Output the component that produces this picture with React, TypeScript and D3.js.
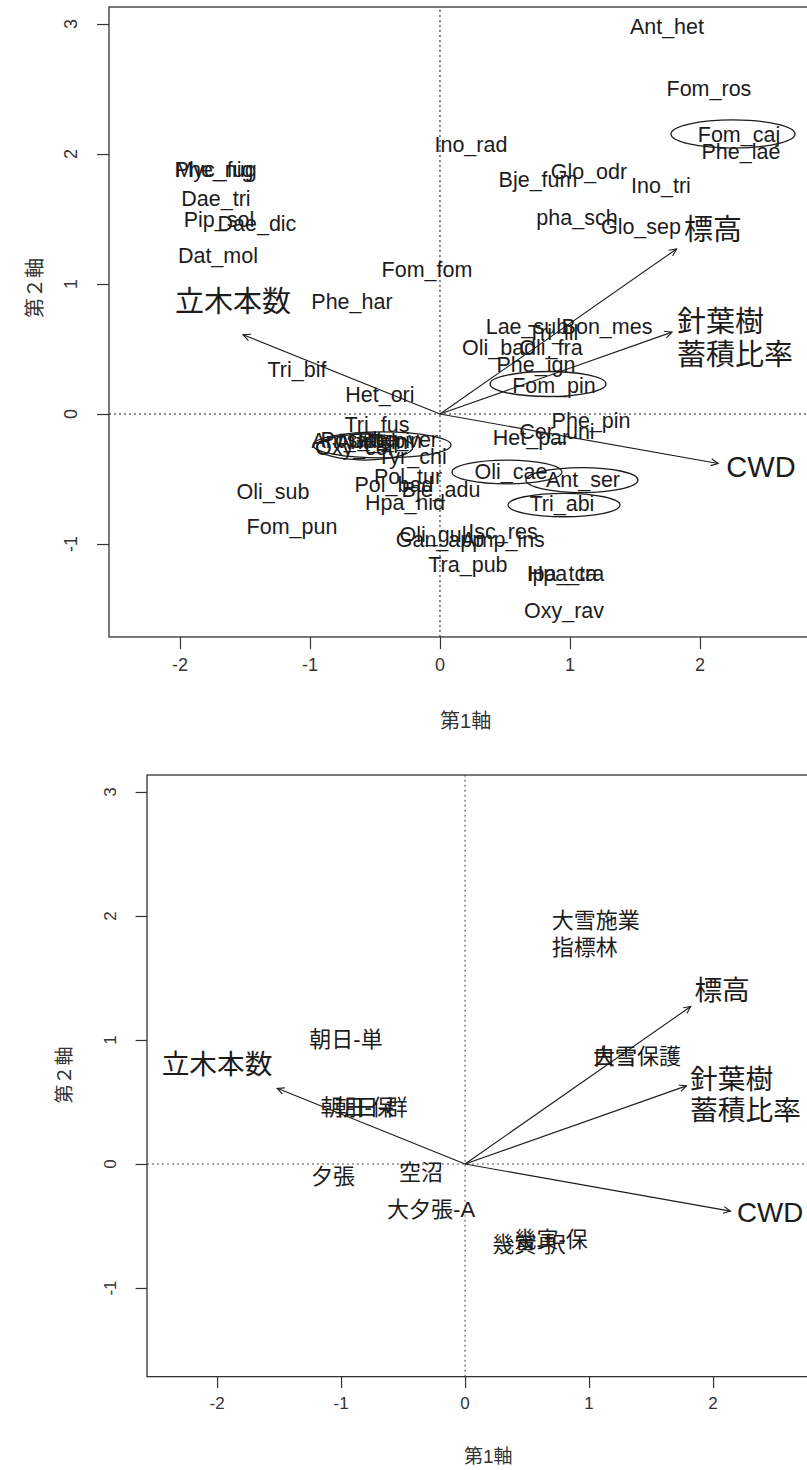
import React, { useEffect, useRef } from "react";
import * as d3 from "d3";

// species scores, top panel
const spNames = [
  "Myc_fug", "Phe_nig", "Dae_tri", "Pip_sol", "Dae_dic", "Dat_mol", "Phe_har", "Fom_fom",
  "Ino_rad", "Ant_het", "Fom_ros", "Fom_caj", "Phe_lae", "Bje_fum", "Glo_odr", "Ino_tri",
  "pha_sch", "Glo_sep", "Lae_sub", "Bon_mes", "Tri_ill", "Oli_bad", "Oli_fra", "Phe_ign",
  "Fom_pin", "Phe_pin", "Cer_uni", "Het_par", "Oli_cae", "Ant_ser", "Tri_abi", "Hpa_tra",
  "Ipa_tca", "Oxy_rav", "Tra_pub", "Oli_gul", "Gan_app", "Isc_res", "Amp_ins", "Tri_bif",
  "Het_ori", "Tri_fus", "Oxy_cor", "Tyr_chi", "Ant_alb", "Pos_ten", "Ant_sin", "Gel_pin",
  "Phe_ver", "Pol_tur", "Pol_bad", "Bje_adu", "Hpa_nid", "Oli_sub", "Fom_pun",
];
const spX = [
  -1.723, -1.738, -1.723, -1.70, -1.408, -1.708, -0.677, -0.10,
  0.238, 1.746, 2.069, 2.30, 2.315, 0.754, 1.146, 1.70,
  1.054, 1.546, 0.669, 1.285, 0.869, 0.454, 0.854, 0.738,
  0.877, 1.162, 0.90, 0.70, 0.546, 1.10, 0.938, 0.969,
  0.938, 0.954, 0.215, -0.054, 0.0, 0.485, 0.485, -1.10,
  -0.462, -0.485, -0.654, -0.215, -0.708, -0.615, -0.523, -0.423,
  -0.323, -0.246, -0.354, 0.008, -0.269, -1.285, -1.138,
];
const spY = [
  1.877, 1.877, 1.654, 1.492, 1.462, 1.215, 0.862, 1.108,
  2.069, 2.977, 2.50, 2.146, 2.015, 1.80, 1.862, 1.754,
  1.508, 1.438, 0.669, 0.669, 0.623, 0.508, 0.508, 0.377,
  0.215, -0.054, -0.138, -0.185, -0.446, -0.508, -0.692, -1.231,
  -1.231, -1.515, -1.162, -0.931, -0.969, -0.908, -0.969, 0.338,
  0.146, -0.085, -0.262, -0.331, -0.208, -0.20, -0.215, -0.208,
  -0.20, -0.485, -0.546, -0.585, -0.685, -0.60, -0.869,
];

// circled species (ellipse centre and radii in axis units)
const ringX = [2.254, 0.831, 0.515, 1.092, 0.954, -0.446, -0.577];
const ringY = [2.154, 0.231, -0.446, -0.508, -0.70, -0.238, -0.254];
const ringRx = [0.477, 0.446, 0.423, 0.431, 0.431, 0.531, 0.37];
const ringRy = [0.108, 0.096, 0.092, 0.096, 0.09, 0.10, 0.10];

// environmental vectors
const envNames = ["立木本数", "標高", "針葉樹\n蓄積比率", "CWD"];
const envX = [-1.515, 1.82, 1.785, 2.14];
const envY = [0.61, 1.27, 0.63, -0.38];
const envLabX1 = [-1.592, 2.10, 1.823, 2.469];
const envLabY1 = [0.862, 1.415, 0.58, -0.408];
const envLabX2 = [-2.0, 2.073, 1.815, 2.46];
const envLabY2 = [0.80, 1.403, 0.556, -0.395];

// site scores, bottom panel
const siteNames = [
  "朝日-単", "朝日-保", "朝日-群", "夕張", "空沼", "大夕張-A", "幾寅-保", "幾寅-択",
  "大雪施業\n指標林", "大雪保護", "白雪",
];
const siteX = [-0.96, -0.871, -0.758, -1.065, -0.355, -0.274, 0.694, 0.516, 0.70, 1.387, 1.21];
const siteY = [1.0, 0.452, 0.452, -0.097, -0.065, -0.371, -0.605, -0.653, 1.855, 0.863, 0.863];

const xTicks = [-2, -1, 0, 1, 2];
const yTicks = [-1, 0, 1, 2, 3];

const LATIN = "'Liberation Sans', Arial, 'Noto Sans CJK JP', sans-serif";
const INK = "#1c1c1c";

function putLabel(g, px, py, name, size, lineH) {
  const parts = name.split("\n");
  if (parts.length === 1) {
    g.append("text").attr("x", px).attr("y", py)
      .attr("text-anchor", "middle").attr("dominant-baseline", "central")
      .style("font-size", size + "px").text(name);
  } else {
    const t = g.append("text").attr("text-anchor", "start").style("font-size", size + "px");
    parts.forEach((s, i) => {
      t.append("tspan").attr("x", px)
        .attr("y", py + (i - (parts.length - 1) / 2) * lineH)
        .attr("dominant-baseline", "central").text(s);
    });
  }
}

function drawPanel(root, p) {
  const k = p.unit / 130;
  const x = d3.scaleLinear().domain([p.xmin, p.xmax])
    .range([p.left, p.left + (p.xmax - p.xmin) * p.unit]);
  const y = d3.scaleLinear().domain([p.ymin, p.ymax])
    .range([p.top + (p.ymax - p.ymin) * p.unit, p.top]);

  const g = root.append("g").style("font-family", LATIN).attr("fill", INK);

  // reference lines through origin
  g.append("line").attr("x1", x(0)).attr("x2", x(0)).attr("y1", y(p.ymin)).attr("y2", y(p.ymax))
    .attr("stroke", p.refColor).attr("stroke-width", 1.1).attr("stroke-dasharray", "2,3");
  g.append("line").attr("x1", x(p.xmin)).attr("x2", x(p.xmax)).attr("y1", y(0)).attr("y2", y(0))
    .attr("stroke", p.refColor).attr("stroke-width", 1.1).attr("stroke-dasharray", "2,3");

  // point labels
  const lab = g.append("g");
  p.names.forEach((n, i) => putLabel(lab, x(p.xs[i]), y(p.ys[i]), n, p.labSize, 28 * k));

  // ellipses
  if (p.rings) {
    g.append("g").selectAll("ellipse").data(p.rings.x).join("ellipse")
      .attr("cx", (d) => x(d)).attr("cy", (d, i) => y(p.rings.y[i]))
      .attr("rx", (d, i) => p.rings.rx[i] * p.unit).attr("ry", (d, i) => p.rings.ry[i] * p.unit)
      .attr("fill", "none").attr("stroke", INK).attr("stroke-width", 1.3);
  }

  // environmental arrows
  const arr = g.append("g").attr("stroke", INK).attr("stroke-width", 1.1).attr("fill", "none");
  envX.forEach((ex, i) => {
    const x1 = x(0), y1 = y(0), x2 = x(ex), y2 = y(envY[i]);
    arr.append("line").attr("x1", x1).attr("y1", y1).attr("x2", x2).attr("y2", y2);
    const a = Math.atan2(y2 - y1, x2 - x1);
    const L = 8 * k;
    const h = d3.path();
    h.moveTo(x2 - L * Math.cos(a - 0.45), y2 - L * Math.sin(a - 0.45));
    h.lineTo(x2, y2);
    h.lineTo(x2 - L * Math.cos(a + 0.45), y2 - L * Math.sin(a + 0.45));
    arr.append("path").attr("d", h.toString());
  });
  const envG = g.append("g");
  envNames.forEach((n, i) => putLabel(envG, x(p.envLX[i]), y(p.envLY[i]), n, p.envSize, 33 * k));

  // box
  g.append("rect").attr("x", x(p.xmin)).attr("y", y(p.ymax))
    .attr("width", x(p.xmax) - x(p.xmin)).attr("height", y(p.ymin) - y(p.ymax))
    .attr("fill", "none").attr("stroke", "#333").attr("stroke-width", 1.3);

  // axes
  const xa = g.append("g").attr("transform", `translate(0,${y(p.ymin)})`)
    .call(d3.axisBottom(x).tickValues(xTicks).tickSize(12 * k).tickFormat(() => ""));
  xa.select(".domain").remove();
  xa.selectAll("line").attr("stroke", "#333").attr("stroke-width", 1.2);
  const ya = g.append("g").attr("transform", `translate(${x(p.xmin)},0)`)
    .call(d3.axisLeft(y).tickValues(yTicks).tickSize(12 * k).tickFormat(() => ""));
  ya.select(".domain").remove();
  ya.selectAll("line").attr("stroke", "#333").attr("stroke-width", 1.2);

  g.append("g").selectAll("text").data(xTicks).join("text")
    .attr("x", (d) => x(d)).attr("y", y(p.ymin) + 28 * k)
    .attr("text-anchor", "middle").attr("dominant-baseline", "central")
    .attr("fill", "#333").style("font-size", p.tickSize + "px").text((d) => String(d));
  g.append("g").selectAll("text").data(yTicks).join("text")
    .attr("transform", (d) => `translate(${x(p.xmin) - 38 * k},${y(d)}) rotate(-90)`)
    .attr("text-anchor", "middle").attr("dominant-baseline", "central")
    .attr("fill", "#333").style("font-size", p.tickSize + "px").text((d) => String(d));

  g.append("text").attr("x", (x(p.xmin) + x(p.xmax)) / 2).attr("y", p.xTitleY)
    .attr("text-anchor", "middle").attr("dominant-baseline", "central")
    .attr("fill", "#333").style("font-size", p.titleSize + "px").text("第1軸");
  g.append("text").attr("transform", `translate(${p.yTitleX},${p.yTitleY}) rotate(-90)`)
    .attr("text-anchor", "middle").attr("dominant-baseline", "central")
    .attr("fill", "#333").style("font-size", p.titleSize + "px").text("第２軸");
}

export default function App() {
  const ref = useRef(null);

  useEffect(() => {
    const svg = d3.select(ref.current);
    svg.selectAll("*").remove();
    svg.append("rect").attr("width", 807).attr("height", 1470).attr("fill", "#fff");

    drawPanel(svg, {
      left: 109, top: 7, unit: 130,
      xmin: -2.546, xmax: 2.94, ymin: -1.715, ymax: 3.131,
      names: spNames, xs: spX, ys: spY,
      rings: { x: ringX, y: ringY, rx: ringRx, ry: ringRy },
      envLX: envLabX1, envLY: envLabY1,
      labSize: 21.5, envSize: 29, tickSize: 18, titleSize: 20,
      refColor: "#222", xTitleY: 721, yTitleX: 35, yTitleY: 288,
    });

    drawPanel(svg, {
      left: 147, top: 775, unit: 124,
      xmin: -2.565, xmax: 2.94, ymin: -1.715, ymax: 3.137,
      names: siteNames, xs: siteX, ys: siteY,
      rings: null,
      envLX: envLabX2, envLY: envLabY2,
      labSize: 22, envSize: 27.7, tickSize: 17, titleSize: 19,
      refColor: "#555", xTitleY: 1456, yTitleX: 64, yTitleY: 1075,
    });
  }, []);

  return (
    <svg ref={ref} width={807} height={1470}
      style={{ position: "absolute", left: 0, top: 0, display: "block" }} />
  );
}
